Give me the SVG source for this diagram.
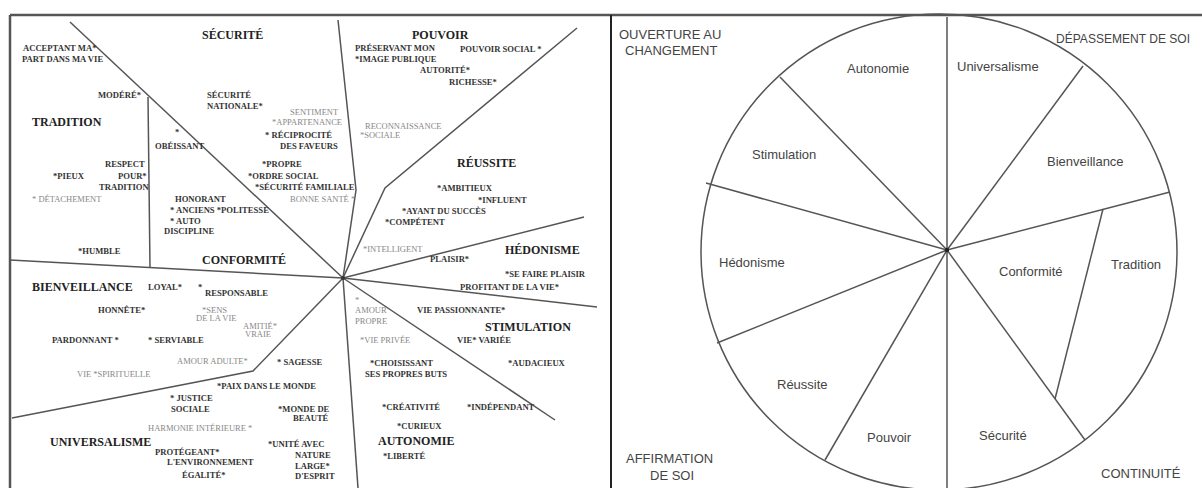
<svg xmlns="http://www.w3.org/2000/svg" width="1202" height="488" viewBox="0 0 1202 488">
<style>
.b{font-family:"Liberation Serif",serif;font-weight:bold;font-size:8.6px;fill:#333}
.l{font-family:"Liberation Serif",serif;font-weight:normal;font-size:8.5px;fill:#888}
.h{font-family:"Liberation Serif",serif;font-weight:bold;font-size:12px;fill:#222}
.s{font-family:"Liberation Sans",Arial,sans-serif;font-size:13px;fill:#444}
.ln{fill:none;stroke:#555;stroke-width:1.5}
.fr{fill:none;stroke:#555;stroke-width:2.5}
</style>
<rect width="1202" height="488" fill="#fff"/>
<g id="frame">
<line class="fr" x1="10" y1="15" x2="1202" y2="15"/>
<line class="fr" x1="10" y1="15" x2="10" y2="488"/>
<line x1="611" y1="15" x2="611" y2="488" stroke="#222" stroke-width="2"/>
</g>
<g id="connectors">
<line class="ln" x1="70" y1="22" x2="343" y2="278"/>
<line class="ln" x1="148" y1="97" x2="150" y2="268"/>
<line class="ln" x1="10" y1="260" x2="343" y2="278"/>
<polyline class="ln" points="338,20 356,190 343,278"/>
<polyline class="ln" points="577,28 385,188 343,278"/>
<line class="ln" x1="343" y1="278" x2="584" y2="217"/>
<line class="ln" x1="343" y1="278" x2="597" y2="307"/>
<line class="ln" x1="343" y1="278" x2="555" y2="420"/>
<line class="ln" x1="343" y1="278" x2="358" y2="488"/>
<polyline class="ln" points="343,278 253,371 12,418"/>
<circle cx="343" cy="278" r="2" fill="#333"/>
<circle class="ln" cx="939" cy="252" r="238"/>
<line class="ln" x1="947" y1="17" x2="947" y2="488"/>
<line class="ln" x1="947" y1="250" x2="780" y2="77"/>
<line class="ln" x1="947" y1="250" x2="706" y2="183"/>
<line class="ln" x1="947" y1="250" x2="717" y2="343"/>
<line class="ln" x1="947" y1="250" x2="825" y2="460"/>
<line class="ln" x1="947" y1="250" x2="1085" y2="440"/>
<line class="ln" x1="947" y1="250" x2="1083" y2="66"/>
<line class="ln" x1="947" y1="250" x2="1170" y2="192"/>
<line class="ln" x1="1103" y1="209" x2="1055" y2="399"/>
<circle cx="947" cy="250" r="2.2" fill="#222"/>
</g>
<g id="tradition">
<text class="b" x="23" y="51">ACCEPTANT MA*</text>
<text class="b" x="22" y="62">PART DANS MA VIE</text>
<text class="b" x="98" y="98">MODÉRÉ*</text>
<text class="h" x="32" y="126">TRADITION</text>
<text class="b" x="105" y="167">RESPECT</text>
<text class="b" x="53" y="179">*PIEUX</text>
<text class="b" x="118" y="179">POUR*</text>
<text class="b" x="99" y="190">TRADITION</text>
<text class="l" x="32" y="202">* DÉTACHEMENT</text>
<text class="b" x="78" y="254">*HUMBLE</text>
</g>
<g id="securite">
<text class="h" x="202" y="39">SÉCURITÉ</text>
<text class="b" x="207" y="98">SÉCURITÉ</text>
<text class="b" x="207" y="109">NATIONALE*</text>
<text class="l" x="290" y="115">SENTIMENT</text>
<text class="l" x="272" y="125">*APPARTENANCE</text>
<text class="b" x="265" y="138">* RÉCIPROCITÉ</text>
<text class="b" x="280" y="149">DES FAVEURS</text>
<text class="b" x="262" y="167">*PROPRE</text>
<text class="b" x="248" y="179">*ORDRE SOCIAL</text>
<text class="b" x="255" y="190">*SÉCURITÉ FAMILIALE</text>
<text class="l" x="290" y="202">BONNE SANTÉ *</text>
</g>
<g id="conformite">
<text class="b" x="175" y="135">*</text>
<text class="b" x="155" y="149">OBÉISSANT</text>
<text class="b" x="175" y="202">HONORANT</text>
<text class="b" x="170" y="213">* ANCIENS *POLITESSE</text>
<text class="b" x="170" y="224">* AUTO</text>
<text class="b" x="164" y="234">DISCIPLINE</text>
<text class="h" x="202" y="264">CONFORMITÉ</text>
</g>
<g id="pouvoir">
<text class="h" x="412" y="39">POUVOIR</text>
<text class="b" x="355" y="51">PRÉSERVANT MON</text>
<text class="b" x="460" y="52">POUVOIR SOCIAL *</text>
<text class="b" x="355" y="62">*IMAGE PUBLIQUE</text>
<text class="b" x="420" y="73">AUTORITÉ*</text>
<text class="b" x="449" y="85">RICHESSE*</text>
<text class="l" x="365" y="129">RECONNAISSANCE</text>
<text class="l" x="360" y="138">*SOCIALE</text>
</g>
<g id="reussite">
<text class="h" x="457" y="167">RÉUSSITE</text>
<text class="b" x="437" y="191">*AMBITIEUX</text>
<text class="b" x="478" y="203">*INFLUENT</text>
<text class="b" x="402" y="214">*AYANT DU SUCCÈS</text>
<text class="b" x="385" y="225">*COMPÉTENT</text>
<text class="l" x="363" y="252">*INTELLIGENT</text>
</g>
<g id="hedonisme">
<text class="h" x="505" y="254">HÉDONISME</text>
<text class="b" x="430" y="262">PLAISIR*</text>
<text class="b" x="505" y="277">*SE FAIRE PLAISIR</text>
<text class="b" x="460" y="290">PROFITANT DE LA VIE*</text>
</g>
<g id="stimulation">
<text class="h" x="485" y="331">STIMULATION</text>
<text class="b" x="417" y="313">VIE PASSIONNANTE*</text>
<text class="b" x="457" y="343">VIE* VARIÉE</text>
<text class="b" x="508" y="366">*AUDACIEUX</text>
<text class="l" x="355" y="303">*</text>
<text class="l" x="355" y="313">AMOUR</text>
<text class="l" x="355" y="324">PROPRE</text>
<text class="l" x="360" y="343">*VIE PRIVÉE</text>
</g>
<g id="autonomie">
<text class="b" x="370" y="366">*CHOISISSANT</text>
<text class="b" x="365" y="377">SES PROPRES BUTS</text>
<text class="b" x="382" y="410">*CRÉATIVITÉ</text>
<text class="b" x="467" y="410">*INDÉPENDANT</text>
<text class="b" x="397" y="429">*CURIEUX</text>
<text class="h" x="378" y="445">AUTONOMIE</text>
<text class="b" x="383" y="459">*LIBERTÉ</text>
</g>
<g id="bienveillance">
<text class="h" x="32" y="291">BIENVEILLANCE</text>
<text class="b" x="148" y="290">LOYAL*</text>
<text class="b" x="198" y="290">*</text>
<text class="b" x="205" y="296">RESPONSABLE</text>
<text class="b" x="98" y="313">HONNÊTE*</text>
<text class="l" x="202" y="313">*SENS</text>
<text class="l" x="196" y="321">DE LA VIE</text>
<text class="l" x="243" y="329">AMITIÉ*</text>
<text class="l" x="245" y="337">VRAIE</text>
<text class="b" x="52" y="343">PARDONNANT *</text>
<text class="b" x="148" y="343">* SERVIABLE</text>
<text class="l" x="177" y="364">AMOUR ADULTE*</text>
<text class="l" x="77" y="377">VIE *SPIRITUELLE</text>
</g>
<g id="universalisme">
<text class="b" x="277" y="365">* SAGESSE</text>
<text class="b" x="217" y="389">*PAIX DANS LE MONDE</text>
<text class="b" x="170" y="401">* JUSTICE</text>
<text class="b" x="171" y="412">SOCIALE</text>
<text class="b" x="278" y="412">*MONDE DE</text>
<text class="b" x="293" y="421">BEAUTÉ</text>
<text class="l" x="148" y="431">HARMONIE INTÉRIEURE *</text>
<text class="h" x="50" y="446">UNIVERSALISME</text>
<text class="b" x="268" y="447">*UNITÉ AVEC</text>
<text class="b" x="155" y="455">PROTÉGEANT*</text>
<text class="b" x="295" y="458">NATURE</text>
<text class="b" x="167" y="465">L'ENVIRONNEMENT</text>
<text class="b" x="295" y="469">LARGE*</text>
<text class="b" x="182" y="478">ÉGALITÉ*</text>
<text class="b" x="295" y="479">D'ESPRIT</text>
</g>
<g id="circle-labels">
<text class="s" x="619" y="39">OUVERTURE AU</text>
<text class="s" x="625" y="55">CHANGEMENT</text>
<text class="s" x="1056" y="43" textLength="134" lengthAdjust="spacingAndGlyphs">DÉPASSEMENT DE SOI</text>
<text class="s" x="847" y="73">Autonomie</text>
<text class="s" x="957" y="71">Universalisme</text>
<text class="s" x="752" y="159">Stimulation</text>
<text class="s" x="1047" y="166">Bienveillance</text>
<text class="s" x="719" y="267">Hédonisme</text>
<text class="s" x="999" y="276">Conformité</text>
<text class="s" x="1111" y="269">Tradition</text>
<text class="s" x="777" y="389">Réussite</text>
<text class="s" x="867" y="442">Pouvoir</text>
<text class="s" x="979" y="440">Sécurité</text>
<text class="s" x="626" y="463">AFFIRMATION</text>
<text class="s" x="650" y="480">DE SOI</text>
<text class="s" x="1101" y="478">CONTINUITÉ</text>
</g>
</svg>
